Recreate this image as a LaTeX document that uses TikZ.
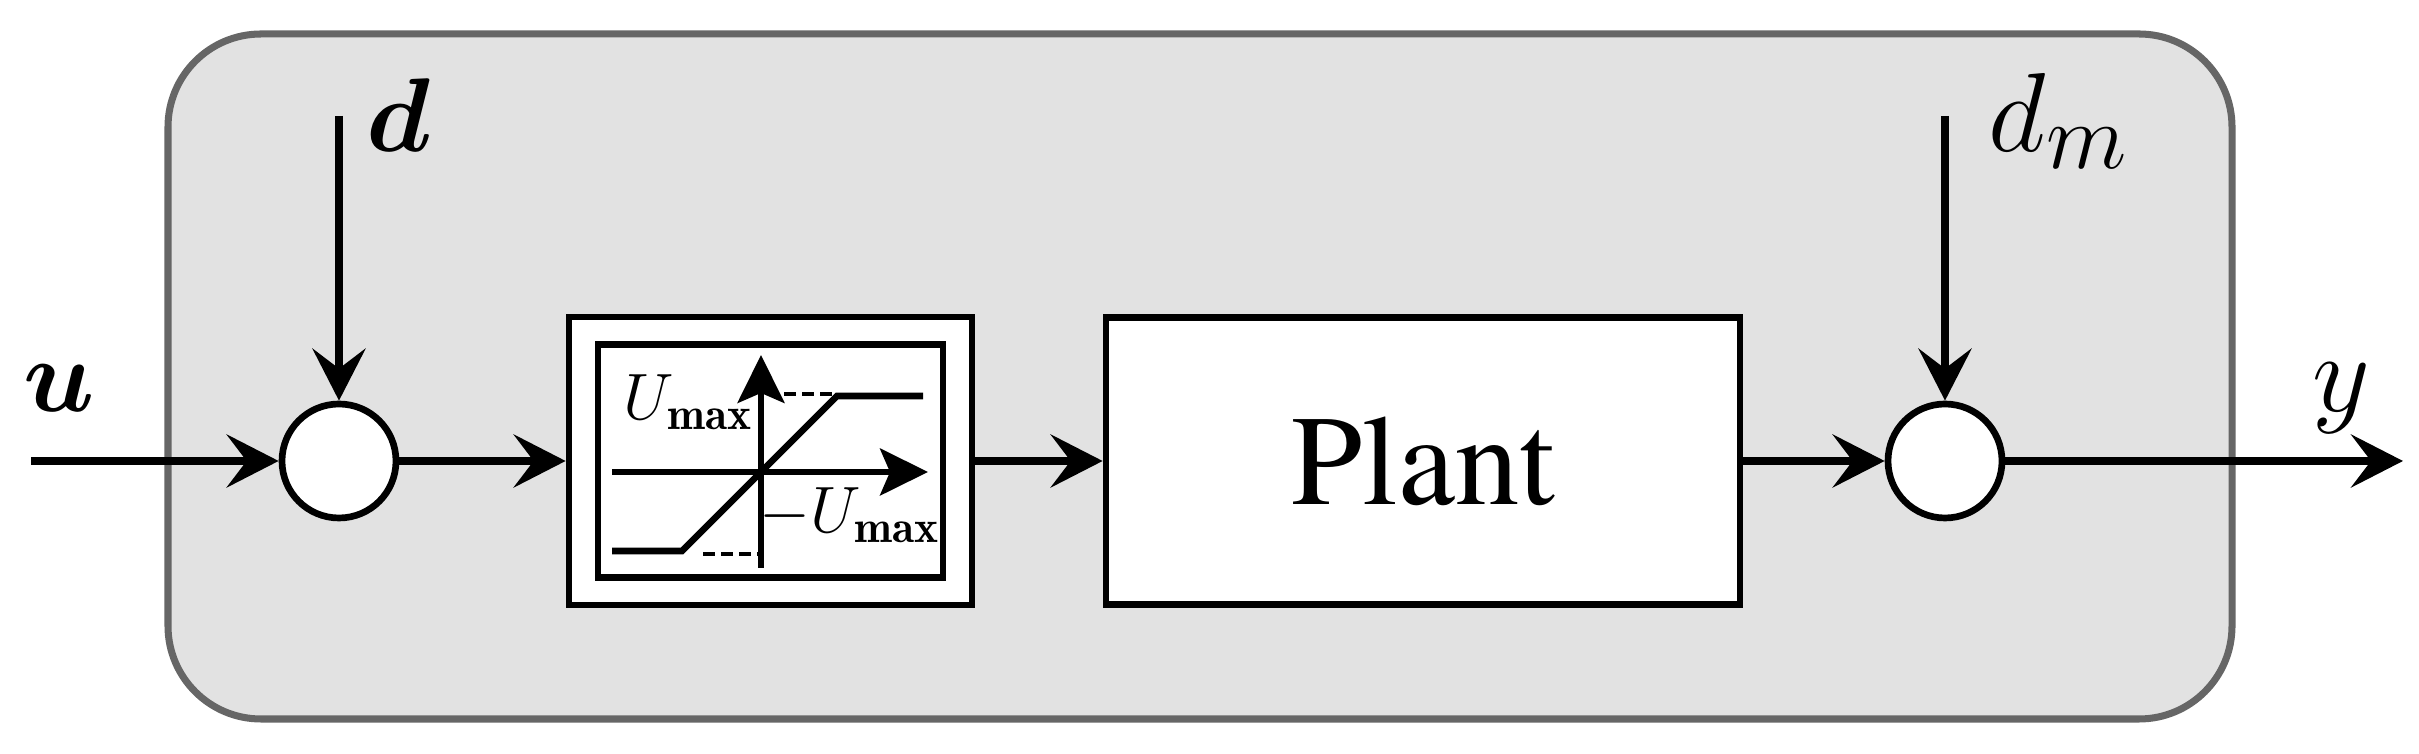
\documentclass[tikz,border=0pt]{standalone}
\usepackage{fontspec}
\usepackage{amsmath, bm}
\usepackage{color, xcolor}
\usepackage{tikz}
\usetikzlibrary{positioning,arrows.meta}
\IfFontExistsTF{texgyretermes-regular.otf}
  {\newfontfamily\plantfont{texgyretermes-regular.otf}}
  {\newfontfamily\plantfont{DejaVu Serif}}
\definecolor{bgfill}{HTML}{E2E2E2}
\definecolor{bgline}{HTML}{666666}

\begin{document}
\begin{tikzpicture}[
            >={Stealth[length=5.2mm,width=5.3mm,inset=2mm]},
            sig/.style={->, line width=2.1pt},
            axis/.style={-{Stealth[length=4.8mm,width=4.7mm,inset=1mm]}, line width=1.6pt},
            sumnode/.style={draw, circle, fill=white, minimum size=1.14cm, inner sep=0pt, line width=1.9pt},
            blockbox/.style={draw, fill=white, inner sep=0pt, line width=1.9pt},
            lbl/.style={inner sep=0pt, font=\Huge, scale=1.286},
            boldlbl/.style={inner sep=0pt, font=\Huge, scale=1.2},
            satlbl/.style={inner sep=0pt, font=\LARGE, scale=1.08}]
            \useasboundingbox (0,0) rectangle (24.19,7.54);
            \draw[fill=bgfill, draw=bgline, line width=2pt, rounded corners=0.93cm] (1.68,0.35) rectangle (22.32,7.20);

            \node[sumnode] (sumd) at (3.39,2.93) {};
            \node[blockbox, minimum width=4.03cm, minimum height=2.88cm] (sat) at (7.705,2.93) {};
            \node[blockbox, minimum width=3.45cm, minimum height=2.33cm] (satin) at (7.705,2.93) {};
            \node[blockbox, minimum width=6.34cm, minimum height=2.87cm] (plant) at (14.23,2.93) {\fontsize{36.5}{42}\plantfont Plant};
            \node[sumnode] (summ) at (19.45,2.93) {};

            \coordinate (uin) at (0.31,2.93);
            \coordinate (din) at (3.39,6.38);
            \coordinate (dmin) at (19.45,6.38);
            \coordinate (yout) at (24.03,2.93);

            \node[boldlbl, anchor=base west] (ulbl) at (0.23,3.42) {$\bm{u}$};
            \node[boldlbl, anchor=base west] (dlbl) at (3.66,6.02) {$\bm{d}$};
            \node[lbl, anchor=base west] (dmlbl) at (19.88,6.02) {$d_m$};
            \node[lbl, anchor=base west] (ylbl) at (23.12,3.42) {$y$};

            \draw[sig] (uin) -- (sumd);
            \draw[sig] (din) -- (sumd);
            \draw[sig] (sumd) -- (sat);
            \draw[sig] (sat) -- (plant);
            \draw[sig] (plant) -- (summ);
            \draw[sig] (dmin) -- (summ);
            \draw[sig] (summ) -- (yout);

            \draw[axis] (6.12,2.82) -- (9.28,2.82);
            \draw[axis] (7.61,1.86) -- (7.61,3.99);
            \draw[line width=1.9pt] (6.12,2.03) -- (6.82,2.03) -- (8.37,3.58) -- (9.23,3.58);
            \draw[line width=1.2pt, dash pattern=on 0.12cm off 0.06cm] (7.84,3.60) -- (8.37,3.60);
            \draw[line width=1.2pt, dash pattern=on 0.12cm off 0.06cm] (7.03,2.00) -- (7.61,2.00);
            \node[satlbl, anchor=base east] (umaxlbl) at (7.54,3.34) {$U_{\mathbf{max}}$};
            \node[satlbl, anchor=base west] (uminlbl) at (7.59,2.21) {$-U_{\mathbf{max}}$};
          \end{tikzpicture}
\end{document}
